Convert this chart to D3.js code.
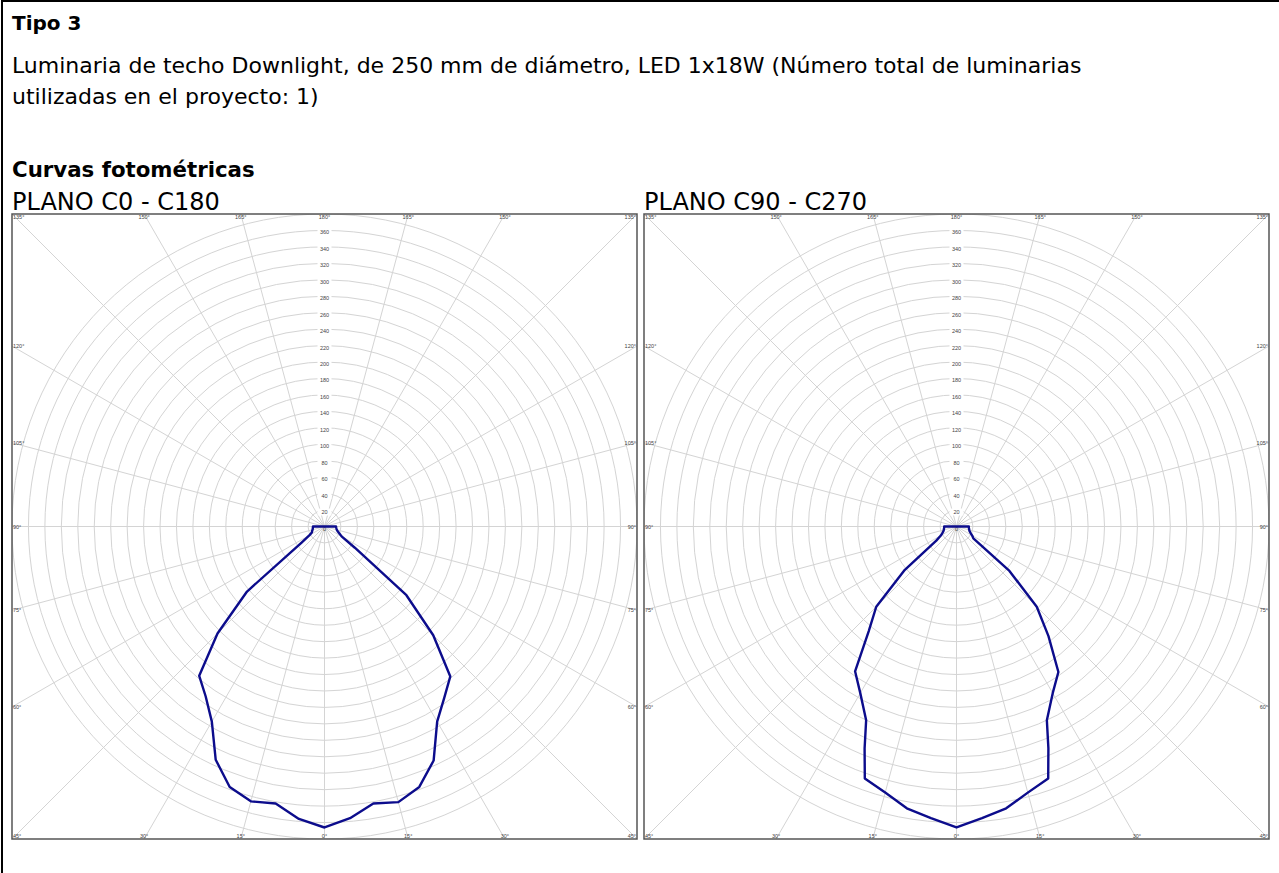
<!DOCTYPE html>
<html><head><meta charset="utf-8">
<script src="https://cdn.jsdelivr.net/npm/d3@7"></script>
<style>html,body{margin:0;padding:0;background:#fff;overflow:hidden}</style>
</head><body>
<script>
// ---------- text ----------
const title = "Tipo 3";
const descLines = [
  "Luminaria de techo Downlight, de 250 mm de diámetro, LED 1x18W (Número total de luminarias",
  "utilizadas en el proyecto: 1)"
];
const sectionTitle = "Curvas fotométricas";
const planeNames = ["PLANO C0 - C180", "PLANO C90 - C270"];

// ---------- grid ticks ----------
const ringValues = [20,40,60,80,100,120,140,160,180,200,220,240,260,280,300,320,340,360,380];
const ringLabels = [0,20,40,60,80,100,120,140,160,180,200,220,240,260,280,300,320,340,360];
const gridAngles = [0,15,30,45,60,75,90,105,120,135,150,165,180];
const maxValue = 380;

// ---------- data (cd) ----------
const anglesA = [0,5,10,15,20,25,30,35,40,45,50,55,60,65,70,75,80,85,90];
const c180 = [366,357,342,346,337,313,274,252,237,184,123,34,21,17,16,15,14.5,14.2,14];
const c0   = [366,356,342,347,337,314,274,254,238,187,130,45,24,20,17,15.5,14.8,14.3,14];

const anglesB = [0,5,10,15,20,22.5,25,30,35,40,45,50,55,60,65,70,75,80,85,90];
const c270 = [366,356,348,335,326,292,260,234,215,166,138,82,30,22,19,17,16,15.5,15,15];
const c90  = [366,356,348,335,326,292,260,234,216,174,138,84,25,22,19,17,16,15.5,15,15];

// ---------- drawing ----------
const W = 1279, H = 873;
const svg = d3.select("body").append("svg").attr("width", W).attr("height", H);
const FONT = "'DejaVu Sans', Verdana, sans-serif";

// outer frame
svg.append("path").attr("d", `M2,${H} V1 H${W}`).attr("fill","none").attr("stroke","#000").attr("stroke-width",2);

svg.append("text").attr("x",12).attr("y",30).attr("font-family",FONT).attr("font-weight","bold")
  .attr("font-size",20).text(title);
descLines.forEach((t,i)=>{
  svg.append("text").attr("x",12).attr("y",73 + i*31).attr("font-family",FONT)
    .attr("font-size",22).text(t);
});
svg.append("text").attr("x",12).attr("y",177).attr("font-family",FONT).attr("font-weight","bold")
  .attr("font-size",21.3).text(sectionTitle);

const box = 625, half = box/2, top0 = 214;
const r = d3.scaleLinear().domain([0, maxValue]).range([0, half]);

const charts = [
  {x0: 12,  name: planeNames[0], angles: anglesA, left: c180, right: c0},
  {x0: 644, name: planeNames[1], angles: anglesB, left: c270, right: c90}
];

charts.forEach((c, ci) => {
  svg.append("text").attr("x", c.x0).attr("y", 210).attr("font-family",FONT)
    .attr("font-size",24).text(c.name);

  const g = svg.append("g").attr("transform", `translate(${c.x0},${top0})`);
  const clipId = "clip" + ci;
  g.append("clipPath").attr("id", clipId).append("rect").attr("width", box).attr("height", box);
  const gc = g.append("g").attr("clip-path", `url(#${clipId})`);
  const center = gc.append("g").attr("transform", `translate(${half},${half})`);

  // rings
  center.selectAll("circle.ring").data(ringValues).join("circle")
    .attr("r", d => r(d)).attr("fill","none").attr("stroke","#d4d4d4").attr("stroke-width",1);

  // radial lines (skip straight up)
  const rad = [];
  gridAngles.forEach(a => {
    if (a === 180) return;
    rad.push(a);
    if (a !== 0) rad.push(-a);
  });
  const L = half * 1.6;
  center.selectAll("line.rad").data(rad).join("line")
    .attr("x1",0).attr("y1",0)
    .attr("x2", d => L*Math.sin(d*Math.PI/180))
    .attr("y2", d => L*Math.cos(d*Math.PI/180))
    .attr("stroke","#d4d4d4").attr("stroke-width",1);

  // ring labels with white backgrounds
  const lab = center.selectAll("g.rl").data(ringLabels).join("g")
    .attr("transform", d => `translate(0,${-r(d)+2})`);
  lab.append("rect").attr("x",-7).attr("y",-3.5).attr("width",14).attr("height",7).attr("fill","#fff")
    .attr("opacity", d => d === 0 ? 0 : 1);
  lab.append("text").attr("text-anchor","middle").attr("dominant-baseline","central")
    .attr("font-family","'Liberation Sans', Arial, sans-serif").attr("font-size",5.5).attr("fill","#444")
    .text(d => d);

  // curve
  const pts = [];
  for (let i = c.angles.length-1; i >= 0; i--) pts.push({a: Math.PI + c.angles[i]*Math.PI/180, v: c.left[i]});
  for (let i = 0; i < c.angles.length; i++) pts.push({a: Math.PI - c.angles[i]*Math.PI/180, v: c.right[i]});
  const line = d3.lineRadial().angle(d => d.a).radius(d => r(d.v)).curve(d3.curveLinearClosed);
  center.append("path").attr("d", line(pts)).attr("fill","none").attr("stroke","#0c0c8c")
    .attr("stroke-width",2.4).attr("stroke-linejoin","round");

  // angle labels on box edges
  const angLabs = [];
  gridAngles.forEach(a => {
    const sides = (a === 0 || a === 180) ? [1] : [-1, 1];
    sides.forEach(s => {
      const sx = s*Math.sin(a*Math.PI/180), sy = Math.cos(a*Math.PI/180);
      const t = half / Math.max(Math.abs(sx), Math.abs(sy));
      let x = half + sx*t, y = half + sy*t;
      let anchor = "middle";
      const vertEdge = Math.abs(sx) >= Math.abs(sy) - 1e-9;
      if (vertEdge) {
        anchor = sx < 0 ? "start" : "end";
        x += sx < 0 ? 1 : -1;
      }
      if (Math.abs(sy) >= Math.abs(sx) - 1e-9) {
        y += sy < 0 ? 3 : -3;
      }
      angLabs.push({x, y, anchor, text: a + "°"});
    });
  });
  g.selectAll("text.al").data(angLabs).join("text")
    .attr("x", d => d.x).attr("y", d => d.y).attr("text-anchor", d => d.anchor)
    .attr("dominant-baseline","central")
    .attr("font-family","'Liberation Sans', Arial, sans-serif").attr("font-size",5.5).attr("fill","#444")
    .text(d => d.text);

  // box
  g.append("rect").attr("x",0).attr("y",0).attr("width",box).attr("height",box)
    .attr("fill","none").attr("stroke","#555").attr("stroke-width",1.5);
});
</script>
</body></html>
